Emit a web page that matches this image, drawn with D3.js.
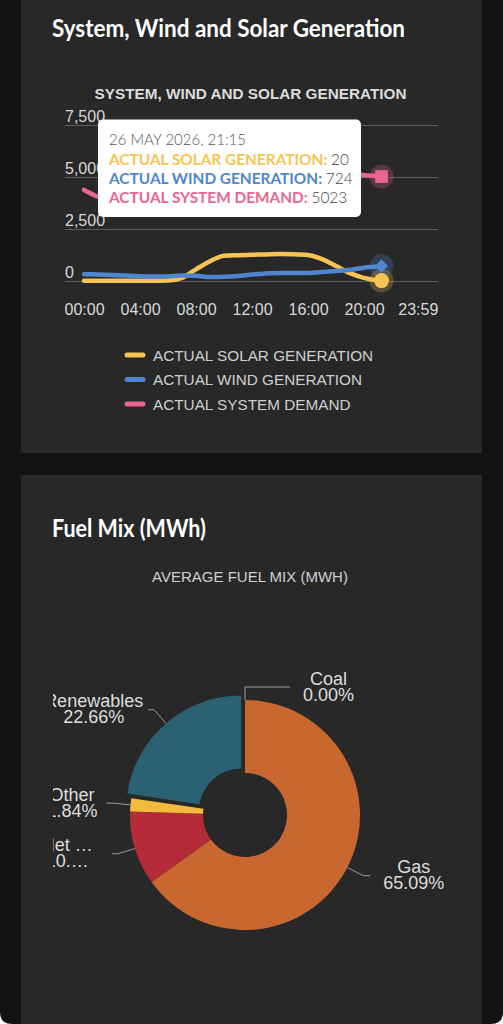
<!DOCTYPE html>
<html>
<head>
<meta charset="utf-8">
<script src="https://cdn.jsdelivr.net/npm/d3@7"></script>
<style>
html,body{margin:0;padding:0;background:#ffffff;}
svg{display:block;}
</style>
</head>
<body>
<svg id="page" width="503" height="1024"></svg>
<script>
// ---------- DATA ----------
const hours = [0,1,2,3,4,5,6,7,8,9,10,11,12,13,14,15,16,17,18,19,20,21,21.25];
const solar = [10,10,10,10,10,10,20,150,560,950,1210,1240,1260,1280,1300,1290,1250,1050,720,380,150,30,20];
const wind  = [330,310,290,260,230,220,230,260,250,190,200,240,310,360,390,380,390,430,480,540,640,700,724];
const demand= [4380,4050,3800,3650,3600,3650,3900,4400,4900,5150,5250,5300,5300,5250,5200,5200,5250,5400,5450,5300,5080,5040,5023];
const seriesNames = ["ACTUAL SOLAR GENERATION","ACTUAL WIND GENERATION","ACTUAL SYSTEM DEMAND"];
const seriesColors = ["#f7c453","#4f86cf","#e9668e"];
const yTicks = [0,2500,5000,7500];
const xTickHours = [0,4,8,12,16,20,23.983];
const xTickLabels = ["00:00","04:00","08:00","12:00","16:00","20:00","23:59"];
const tooltipTitle = "26 MAY 2026, 21:15";

const fuelNames  = ["Coal","Gas","Net …","Other","Renewables"];
const fuelValues = [0.00,65.09,10.41,1.84,22.66];
const fuelPctLabels = ["0.00%","65.09%","10.…","1.84%","22.66%"];
const fuelColors = ["#3a3a3a","#c8672f","#b52b37","#f2bb3d","#2a6273"];

// ---------- PAGE ----------
const svg = d3.select("#page");
const W = 503, H = 1024;
svg.append("path")
  .attr("d", `M0,0 H${W} V${H-12} Q${W},${H} ${W-12},${H} H12 Q0,${H} 0,${H-12} Z`)
  .attr("fill","#131313");
svg.append("rect").attr("x",21).attr("y",-10).attr("width",461).attr("height",463).attr("fill","#282828");
svg.append("rect").attr("x",21).attr("y",475).attr("width",461).attr("height",560).attr("fill","#282828");

const headFont = "Lato, 'Open Sans', sans-serif";
svg.append("text").attr("x",52).attr("y",37).text("System, Wind and Solar Generation")
  .attr("font-family",headFont).attr("font-weight",700).attr("font-size",25)
  .attr("textLength",353).attr("lengthAdjust","spacingAndGlyphs").attr("fill","#fff");
svg.append("text").attr("x",52).attr("y",537).text("Fuel Mix (MWh)")
  .attr("font-family",headFont).attr("font-weight",700).attr("font-size",25)
  .attr("textLength",154).attr("lengthAdjust","spacingAndGlyphs").attr("fill","#fff");

// ---------- LINE CHART ----------
const sans = "'Liberation Sans', Arial, Helvetica, sans-serif";
svg.append("text").attr("x",250.5).attr("y",99).attr("text-anchor","middle")
  .attr("font-family",sans).attr("font-weight",700).attr("font-size",15.3).attr("fill","#dcdcdc")
  .text("SYSTEM, WIND AND SOLAR GENERATION");

const x = d3.scaleLinear().domain([0,24]).range([84,420]);
const y = d3.scaleLinear().domain([0,7500]).range([281,125]);

const yAxis = svg.append("g").attr("transform","translate(65,0)")
  .call(d3.axisRight(y).tickValues(yTicks).tickSize(373).tickFormat(d3.format(",")));
yAxis.select(".domain").remove();
yAxis.selectAll(".tick line").attr("stroke","#5e5e5e").attr("stroke-width",1);
yAxis.selectAll(".tick text").attr("x",0).attr("dy",-4).attr("text-anchor","start")
  .attr("font-family",sans).attr("font-size",16).attr("fill","#d8d8d8");

const xAxis = svg.append("g").attr("transform","translate(0,281)")
  .call(d3.axisBottom(x).tickValues(xTickHours).tickSize(0).tickFormat((d,i)=>xTickLabels[i]));
xAxis.select(".domain").remove();
xAxis.selectAll(".tick text").attr("y",34).attr("dy",0)
  .attr("font-family",sans).attr("font-size",16).attr("fill","#d8d8d8");
xAxis.selectAll(".tick").filter((d,i)=>i===xTickLabels.length-1).select("text").attr("dx",-2);

const series = [solar, wind, demand];
const line = d3.line().x((d,i)=>x(hours[i])).y(d=>y(d)).curve(d3.curveMonotoneX);
[2,0,1].forEach(k=>{
  svg.append("path").datum(series[k]).attr("d",line).attr("fill","none")
    .attr("stroke",seriesColors[k]).attr("stroke-width",4.5)
    .attr("stroke-linejoin","round").attr("stroke-linecap","round");
});

// hover markers at last point
const last = hours.length-1;
const lx = x(hours[last]);
series.forEach((s,k)=>{
  svg.append("circle").attr("cx",lx).attr("cy",y(s[last])).attr("r",12)
    .attr("fill",seriesColors[k]).attr("fill-opacity",0.25);
});
svg.append("circle").attr("cx",lx).attr("cy",y(solar[last])).attr("r",7.5).attr("fill",seriesColors[0]);
svg.append("path").attr("d",d3.symbol(d3.symbolDiamond2, 110)())
  .attr("transform",`translate(${lx},${y(wind[last])})`).attr("fill",seriesColors[1]);
svg.append("path").attr("d",d3.symbol(d3.symbolSquare, 160)())
  .attr("transform",`translate(${lx},${y(demand[last])})`).attr("fill",seriesColors[2]);

// tooltip
const tip = svg.append("g");
tip.append("rect").attr("x",98).attr("y",119.5).attr("width",263).attr("height",97.5).attr("rx",5).attr("fill","#fff");
const tipFont = "Lato, sans-serif";
tip.append("text").attr("x",109).attr("y",145).attr("font-family",tipFont).attr("font-size",15)
  .attr("font-weight",300).attr("fill","#555").text(tooltipTitle);
const tipVals = [solar[last], wind[last], demand[last]];
seriesNames.forEach((n,k)=>{
  const t = tip.append("text").attr("x",109).attr("y",164.5+k*19.2).attr("font-family",tipFont).attr("font-size",15.4);
  t.append("tspan").attr("font-weight",700).attr("fill",seriesColors[k]).text(n+": ");
  t.append("tspan").attr("fill","#444").attr("font-weight",300).text(tipVals[k]);
});

// legend
const leg = svg.append("g");
seriesNames.forEach((n,k)=>{
  const ly = 355 + k*24.5;
  leg.append("line").attr("x1",127).attr("x2",143).attr("y1",ly).attr("y2",ly)
    .attr("stroke",seriesColors[k]).attr("stroke-width",5).attr("stroke-linecap","round");
  leg.append("text").attr("x",153).attr("y",ly+5.5).attr("font-family",sans).attr("font-size",15.3)
    .attr("fill","#cfcfcf").text(n);
});

// ---------- PIE ----------
svg.append("text").attr("x",250).attr("y",582).attr("text-anchor","middle")
  .attr("font-family",sans).attr("font-size",15).attr("fill","#cfcfcf").text("AVERAGE FUEL MIX (MWH)");

const cx = 245, cy = 815, R = 115, r0 = 42;
const pie = d3.pie().sort(null).value(d=>d);
const arcs = pie(fuelValues);
const arc = d3.arc().innerRadius(r0).outerRadius(R);
const selectedIdx = 4, slicedOffset = 6;
const pg = svg.append("g").attr("transform",`translate(${cx},${cy})`);
arcs.forEach((a,i)=>{
  if (a.endAngle - a.startAngle <= 0) return;
  const mid = (a.startAngle+a.endAngle)/2;
  const off = i===selectedIdx ? slicedOffset : 0;
  pg.append("path").attr("d",arc(a)).attr("fill",fuelColors[i])
    .attr("transform",`translate(${off*Math.sin(mid)},${-off*Math.cos(mid)})`);
});

// labels with connectors (clipped at the chart's left edge)
const clip = svg.append("clipPath").attr("id","lblclip");
clip.append("rect").attr("x",53).attr("y",600).attr("width",430).attr("height",400);
const lg = svg.append("g").attr("clip-path","url(#lblclip)");
const labelGap = [13, 13, 19, 9, 5];
arcs.forEach((a,i)=>{
  const mid = (a.startAngle+a.endAngle)/2;
  const off = i===selectedIdx ? slicedOffset : 0;
  const sx = Math.sin(mid), sy = -Math.cos(mid);
  const p0 = [cx+(R+off)*sx, cy+(R+off)*sy];
  let p1, p2;
  if (i===0) {
    p1 = [cx, cy+(R+13)*sy];
    p2 = [p1[0]+45, p1[1]];
    p0[0] = cx;
  } else {
    p1 = [cx+(R+off+18)*sx, cy+(R+off+18)*sy];
    p2 = [p1[0] + (sx>=0 ? 7 : -6), p1[1]];
  }
  lg.append("path").attr("d",d3.line()([p0,p1,p2])).attr("fill","none")
    .attr("stroke","#9a9a9a").attr("stroke-width",1);
  const right = sx>=0 || i===0;
  const t = lg.append("text").attr("font-family",sans).attr("font-size",18).attr("fill","#dedede")
    .attr("text-anchor","middle");
  const l1 = t.append("tspan").text(fuelNames[i]);
  const l2 = t.append("tspan").text(fuelPctLabels[i]);
  const bw = Math.max(l1.node().getComputedTextLength(), l2.node().getComputedTextLength());
  const ccx = right ? p2[0] + labelGap[i] + bw/2 : p2[0] - labelGap[i] - bw/2;
  const by = p2[1] - 2.5;
  l1.attr("x",ccx).attr("y",by);
  l2.attr("x",ccx).attr("y",by+16);
});
</script>
</body>
</html>
